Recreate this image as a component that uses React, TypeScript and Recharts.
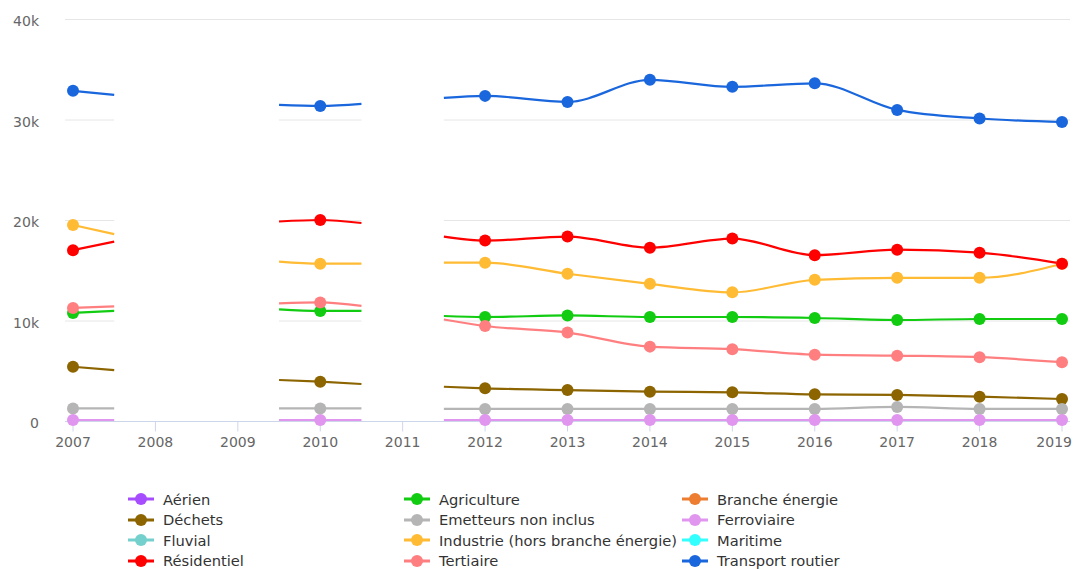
import React from "react";
import { LineChart, Line, XAxis, YAxis, CartesianGrid, ReferenceArea } from "recharts";

// x positions (years; half-years are where each visible segment ends)
const YEARS = [2007, 2007.5, 2008, 2009, 2009.5, 2010, 2010.5, 2011, 2011.5, 2012, 2013, 2014, 2015, 2016, 2017, 2018, 2019];
const X_TICKS = [2007, 2008, 2009, 2010, 2011, 2012, 2013, 2014, 2015, 2016, 2017, 2018, 2019];
const Y_TICKS = [0, 10000, 20000, 30000, 40000];
const GAPS: [number, number][] = [[2007.5, 2009.5], [2010.5, 2011.5]];

const n = null;
const aerien = YEARS.map(() => null as number | null);
const agriculture = [10800, 11000, n, n, 11150, 11000, 11000, n, 10500, 10400, 10550, 10400, 10400, 10300, 10100, 10200, 10200];
const brancheEnergie = YEARS.map(() => null as number | null);
const dechets = [5450, 5120, n, n, 4130, 3960, 3730, n, 3460, 3300, 3130, 2970, 2900, 2700, 2640, 2470, 2240];
const emetteurs = [1300, 1300, n, n, 1300, 1300, 1300, n, 1250, 1250, 1250, 1250, 1250, 1250, 1450, 1250, 1250];
const ferroviaire = [150, 150, n, n, 150, 150, 150, n, 150, 150, 150, 150, 150, 150, 150, 150, 150];
const fluvial = YEARS.map(() => null as number | null);
const industrie = [19550, 18650, n, n, 15900, 15700, 15700, n, 15800, 15800, 14700, 13700, 12850, 14100, 14300, 14300, 15700];
const maritime = YEARS.map(() => null as number | null);
const residentiel = [17050, 17900, n, n, 19900, 20050, 19750, n, 18400, 18000, 18400, 17300, 18200, 16550, 17100, 16800, 15700];
const tertiaire = [11300, 11450, n, n, 11750, 11850, 11500, n, 10150, 9500, 8850, 7450, 7200, 6650, 6550, 6400, 5900];
const transport = [32900, 32500, n, n, 31500, 31400, 31600, n, 32200, 32400, 31800, 34000, 33300, 33650, 31000, 30150, 29800];

const SERIES = [
  { key: "aerien", name: "Aérien", color: "#a64dff", values: aerien },
  { key: "agriculture", name: "Agriculture", color: "#11cc11", values: agriculture },
  { key: "branche", name: "Branche énergie", color: "#ed7d31", values: brancheEnergie },
  { key: "dechets", name: "Déchets", color: "#8c6400", values: dechets },
  { key: "emetteurs", name: "Emetteurs non inclus", color: "#b5b5b5", values: emetteurs },
  { key: "ferroviaire", name: "Ferroviaire", color: "#e096ee", values: ferroviaire },
  { key: "fluvial", name: "Fluvial", color: "#73d0cc", values: fluvial },
  { key: "industrie", name: "Industrie (hors branche énergie)", color: "#ffbb33", values: industrie },
  { key: "maritime", name: "Maritime", color: "#33ffff", values: maritime },
  { key: "residentiel", name: "Résidentiel", color: "#ff0000", values: residentiel },
  { key: "tertiaire", name: "Tertiaire", color: "#ff7f80", values: tertiaire },
  { key: "transport", name: "Transport routier", color: "#1a66dd", values: transport },
];

const data = YEARS.map((year, i) => {
  const row: Record<string, number | null> = { year };
  SERIES.forEach((s) => { row[s.key] = s.values[i]; });
  return row;
});

const FONT = "'DejaVu Sans', sans-serif";
const CHART_W = 1073;

const makeDot = (color: string) => (props: any) => {
  const { cx, cy, payload, index, value } = props;
  if (value == null || cx == null || cy == null || !Number.isInteger(payload.year)) {
    return <g key={`d-${index}`} />;
  }
  return <circle key={`d-${index}`} cx={cx} cy={cy} r={6} fill={color} stroke="none" />;
};

const XTick = (props: any) => {
  const { x, y, payload } = props;
  const label = String(payload.value);
  const halfW = label.length * 4.45;
  let tx = x;
  let anchor: "middle" | "end" = "middle";
  if (x + halfW > CHART_W - 1) {
    tx = CHART_W - 1;
    anchor = "end";
  }
  return (
    <text x={tx} y={y} dy="0.9em" textAnchor={anchor} fill="#666666" fontSize={14} fontFamily={FONT}>
      {label}
    </text>
  );
};

const LEGEND_COLS = [128, 404, 682];
const LEGEND_ROWS = [499, 519.5, 540, 560.5];

export default function App() {
  return (
    <div style={{ position: "absolute", left: 0, top: 0, width: 1073, height: 569, background: "#fff" }}>
      <LineChart
        width={CHART_W}
        height={569}
        data={data}
        margin={{ top: 19.5, right: 3, bottom: 117.5, left: 0 }}
      >
        <CartesianGrid horizontal vertical={false} stroke="#e6e6e6" strokeWidth={1} />
        {GAPS.map(([a, b], i) => (
          <ReferenceArea key={i} x1={a} x2={b} y1={300} y2={39400} fill="#ffffff" fillOpacity={1} stroke="none" ifOverflow="visible" />
        ))}
        <XAxis
          dataKey="year"
          type="number"
          domain={[2007, 2019]}
          ticks={X_TICKS}
          padding={{ left: 8, right: 8 }}
          height={30}
          stroke="#ccd6eb"
          tickSize={10}
          tickMargin={3}
          tick={<XTick />}
          allowDecimals={false}
        />
        <YAxis
          type="number"
          domain={[0, 40000]}
          ticks={Y_TICKS}
          width={65}
          axisLine={false}
          tickLine={false}
          tickSize={0}
          tickMargin={26}
          tick={{ fill: "#666666", fontSize: 14, fontFamily: FONT, dy: 2 }}
          tickFormatter={(v: number) => (v === 0 ? "0" : `${v / 1000}k`)}
        />
        {SERIES.map((s) => (
          <Line
            key={s.key}
            dataKey={s.key}
            name={s.name}
            type="monotone"
            stroke={s.color}
            strokeWidth={2.2}
            dot={makeDot(s.color)}
            activeDot={false}
            connectNulls={false}
            isAnimationActive={false}
          />
        ))}
      </LineChart>
      {SERIES.map((s, i) => {
        const col = i % 3;
        const row = Math.floor(i / 3);
        const x = LEGEND_COLS[col];
        const y = LEGEND_ROWS[row];
        return (
          <div
            key={s.key}
            style={{
              position: "absolute",
              left: x,
              top: y - 10,
              height: 20,
              display: "flex",
              alignItems: "center",
              whiteSpace: "nowrap",
              fontFamily: FONT,
              fontSize: 14.7,
              color: "#333333",
            }}
          >
            <svg width={26} height={14} style={{ marginRight: 9 }}>
              <line x1={0} y1={7} x2={26} y2={7} stroke={s.color} strokeWidth={3} />
              <circle cx={13} cy={7} r={6} fill={s.color} />
            </svg>
            <span>{s.name}</span>
          </div>
        );
      })}
    </div>
  );
}
